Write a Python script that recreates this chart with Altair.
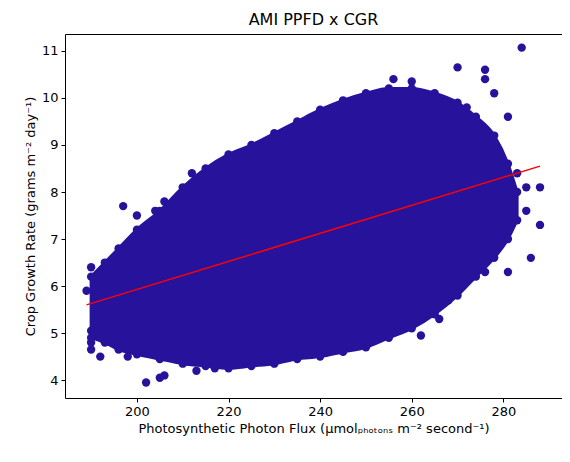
import altair as alt
import pandas as pd

# dense cloud envelope
env_x = [190, 193, 196, 200, 205, 210, 215, 220, 225, 230, 235, 240, 245, 250, 255, 260, 265, 270, 274, 278, 281, 283]
env_low = [4.9, 4.8, 4.65, 4.55, 4.45, 4.35, 4.3, 4.25, 4.3, 4.35, 4.45, 4.5, 4.6, 4.7, 4.9, 5.1, 5.4, 5.8, 6.2, 6.6, 7.0, 7.4]
env_high = [6.2, 6.5, 6.8, 7.2, 7.6, 8.1, 8.5, 8.8, 9.0, 9.25, 9.5, 9.75, 9.95, 10.1, 10.2, 10.2, 10.1, 9.9, 9.6, 9.2, 8.6, 8.0]

# scattered edge points
pt_x = [284, 270, 276, 276, 281, 278, 285, 288, 288, 286, 285, 281, 273, 276, 190, 190, 190, 190, 192,
        194, 196, 195, 198, 197, 200, 198, 202, 205, 206, 213, 217, 202, 204, 206, 212, 262, 266, 268,
        271, 274, 279, 283, 272, 278, 189, 191, 256, 260, 280]
pt_y = [11.07, 10.65, 10.6, 10.4, 9.6, 9.0, 8.1, 8.1, 7.3, 6.6, 7.6, 6.3, 6.5, 6.3, 6.4, 5.05, 4.8, 4.65, 4.5,
        5.9, 5.6, 6.3, 6.7, 7.7, 7.5, 4.5, 3.95, 4.05, 4.1, 4.2, 4.25, 4.8, 7.6, 7.8, 8.4, 4.95, 5.3, 5.7,
        6.0, 6.8, 8.6, 8.4, 9.8, 10.1, 5.9, 5.2, 10.4, 10.35, 7.9]

fit_x = [189, 288]
fit_y = [5.6, 8.55]

color = "#27139B"
xs = alt.Scale(domain=[184.3, 292.8], nice=False, zero=False)
ys = alt.Scale(domain=[3.62, 11.36], nice=False, zero=False)

env = pd.DataFrame({"x": env_x, "lo": env_low, "hi": env_high})
pts = pd.DataFrame({"x": pt_x + env_x + env_x, "y": pt_y + env_low + env_high})
fit = pd.DataFrame({"x": fit_x, "y": fit_y})

xax = alt.X("x:Q", scale=xs, axis=alt.Axis(values=[200, 220, 240, 260, 280],
            title="Photosynthetic Photon Flux (μmolₚₕₒₜₒₙₛ m⁻² second⁻¹)"))
yax = alt.Y("lo:Q", scale=ys, axis=alt.Axis(values=[4, 5, 6, 7, 8, 9, 10, 11],
            title="Crop Growth Rate (grams m⁻² day⁻¹)"))

area = alt.Chart(env).mark_area(color=color, interpolate="monotone", stroke=color, strokeWidth=3).encode(
    x=xax, y=yax, y2="hi:Q")
dots = alt.Chart(pts).mark_circle(color=color, size=70, opacity=1).encode(
    x=alt.X("x:Q", scale=xs), y=alt.Y("y:Q", scale=ys))
line = alt.Chart(fit).mark_line(color="red", strokeWidth=1.5).encode(
    x=alt.X("x:Q", scale=xs), y=alt.Y("y:Q", scale=ys))

chart = (area + dots + line).properties(
    width=497, height=364, title="AMI PPFD x CGR",
    autosize=alt.AutoSizeParams(type="none"),
    padding={"left": 57, "top": 26, "right": 0, "bottom": 56},
).configure_view(stroke="black", strokeWidth=1).configure_axis(
    grid=False, domain=False, tickColor="black", tickSize=4, labelColor="black",
    labelFont="DejaVu Sans", labelFontSize=13, titleFont="DejaVu Sans", titleFontSize=13,
    titleFontWeight="normal", titleColor="black", labelPadding=3,
).configure_title(font="DejaVu Sans", fontSize=16, fontWeight="normal", offset=6)

chart.save("out.html", embed_options={"renderer": "svg", "actions": False})
